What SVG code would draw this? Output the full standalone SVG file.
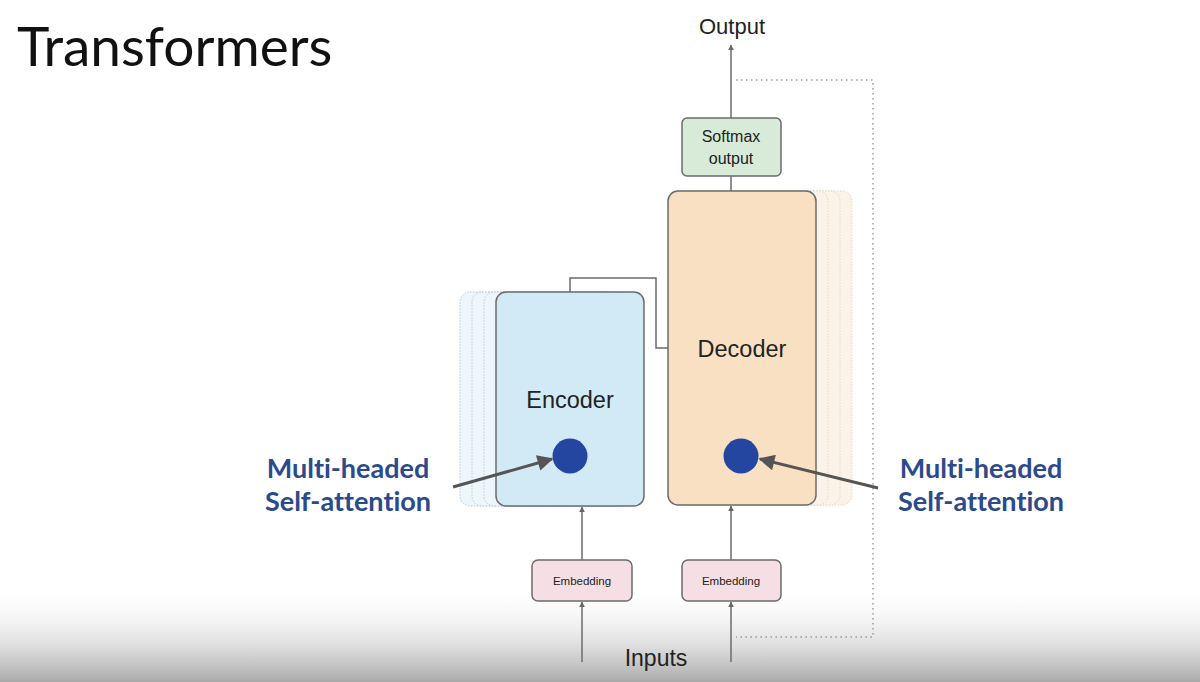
<svg xmlns="http://www.w3.org/2000/svg" width="1200" height="682" viewBox="0 0 1200 682">
<defs>
<linearGradient id="shade" x1="0" y1="0" x2="0" y2="1">
<stop offset="0" stop-color="#ffffff" stop-opacity="0"/>
<stop offset="1" stop-color="#a9a9a9"/>
</linearGradient>
<marker id="ah" viewBox="0 0 10 10" refX="9" refY="5" markerWidth="6" markerHeight="6" orient="auto" markerUnits="userSpaceOnUse">
<path d="M0,0 L10,5 L0,10 z" fill="#666"/>
</marker>
<marker id="big" viewBox="0 0 10 10" refX="9" refY="5" markerWidth="20" markerHeight="16" orient="auto" markerUnits="userSpaceOnUse">
<path d="M0,0 L10,5 L0,10 z" fill="#555"/>
</marker>
<style>
.box{stroke:#6b6b6b;stroke-width:1.5}
.ghostE{fill:#eef6fb;stroke:#b9c9d4;stroke-width:1;stroke-dasharray:1.5 1.5}
.ghostD{fill:#fcf3e8;stroke:#e3d6c6;stroke-width:1;stroke-dasharray:1.5 1.5}
.lbl{font-family:Arial,"Liberation Sans",sans-serif;fill:#222;text-anchor:middle}
.mh{font-family:Lato,"Noto Sans",sans-serif;font-weight:bold;font-size:27px;fill:#2b4a8b;text-anchor:middle;font-variant-ligatures:none}
.ln{stroke:#6b6b6b;stroke-width:1.5;fill:none}
.dot{stroke:#9a9a9a;stroke-width:1.5;fill:none;stroke-dasharray:1.5 3.5}
.pt{stroke:#555;stroke-width:3;fill:none}
</style>
</defs>
<rect width="1200" height="682" fill="#ffffff"/>
<rect x="0" y="585" width="1200" height="97" fill="url(#shade)"/>
<text x="17" y="66" font-family="Lato,'Noto Sans',sans-serif" font-size="55" fill="#111" style="font-variant-ligatures:none">Transformers</text>

<g id="encoder">
<rect class="ghostE" x="460" y="292" width="147" height="214" rx="10"/>
<rect class="ghostE" x="472" y="292" width="147" height="214" rx="10"/>
<rect class="ghostE" x="484" y="292" width="147" height="214" rx="10"/>
<rect class="box" x="496" y="292" width="148" height="214" rx="10" fill="#d2e9f6"/>
<text class="lbl" x="570" y="408" font-size="23.5">Encoder</text>
<circle cx="570" cy="456" r="17.5" fill="#2446a1"/>
</g>

<g id="decoder">
<rect class="ghostD" x="704" y="191" width="148" height="314" rx="10"/>
<rect class="ghostD" x="692" y="191" width="148" height="314" rx="10"/>
<rect class="ghostD" x="680" y="191" width="148" height="314" rx="10"/>
<rect class="box" x="668" y="191" width="148" height="314" rx="10" fill="#f9e0c3"/>
<text class="lbl" x="742" y="357" font-size="23.5">Decoder</text>
<circle cx="741" cy="456" r="17.5" fill="#2446a1"/>
</g>

<g id="softmax">
<rect class="box" x="682" y="118" width="99" height="58" rx="5" fill="#d7ebd8"/>
<text class="lbl" x="731" y="142" font-size="16">Softmax</text>
<text class="lbl" x="731" y="164" font-size="16">output</text>
</g>

<g id="embedding1">
<rect class="box" x="532" y="560" width="100" height="41" rx="6" fill="#f6dfe4"/>
<text class="lbl" x="582" y="585" font-size="11.5">Embedding</text>
</g>
<g id="embedding2">
<rect class="box" x="682" y="560" width="99" height="41" rx="6" fill="#f6dfe4"/>
<text class="lbl" x="731" y="585" font-size="11.5">Embedding</text>
</g>

<g id="connectors">
<path class="dot" d="M736,80 H873 V637 H736"/>
<path class="ln" d="M570,292 V278 H656 V348 H668"/>
<line class="ln" x1="731" y1="191" x2="731" y2="176"/>
<line class="ln" x1="731" y1="118" x2="731" y2="45" marker-end="url(#ah)"/>
<line class="ln" x1="582" y1="662" x2="582" y2="602" marker-end="url(#ah)"/>
<line class="ln" x1="582" y1="560" x2="582" y2="507" marker-end="url(#ah)"/>
<line class="ln" x1="731" y1="662" x2="731" y2="602" marker-end="url(#ah)"/>
<line class="ln" x1="731" y1="560" x2="731" y2="506" marker-end="url(#ah)"/>
<line class="pt" x1="453" y1="487" x2="552" y2="459" marker-end="url(#big)"/>
<line class="pt" x1="878" y1="488" x2="760" y2="459" marker-end="url(#big)"/>
</g>

<g id="labels">
<text class="lbl" x="732" y="34" font-size="22">Output</text>
<text class="lbl" x="656" y="666" font-size="23">Inputs</text>
<text class="mh" x="348" y="478">Multi-headed</text>
<text class="mh" x="348" y="511">Self-attention</text>
<text class="mh" x="981" y="478">Multi-headed</text>
<text class="mh" x="981" y="511">Self-attention</text>
</g>
</svg>
